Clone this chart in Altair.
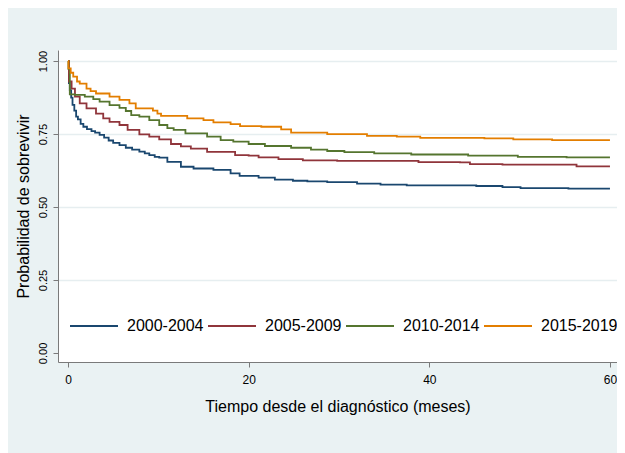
import altair as alt
import pandas as pd

series = ["2000-2004", "2005-2009", "2010-2014", "2015-2019"]
colors = ["#1a476f", "#90353b", "#55752f", "#e37e00"]

t_2000 = [0, 0.1, 0.2, 0.35, 0.5, 0.7, 0.9, 1.1, 1.4, 1.7, 2.1, 2.6, 3.0, 3.5, 4.0, 4.5, 5.0, 5.7, 6.4, 7.1, 7.9, 8.5, 9.0, 9.6, 10.1, 11.0, 12.5, 13.9, 16.1, 18.0, 19.0, 21.1, 22.9, 24.9, 26.5, 28.7, 32.0, 34.6, 37.5, 45.2, 48.1, 50.1, 55.4, 60]
s_2000 = [1.0, 0.925, 0.90, 0.875, 0.85, 0.83, 0.81, 0.80, 0.785, 0.775, 0.767, 0.76, 0.755, 0.747, 0.738, 0.728, 0.72, 0.712, 0.703, 0.697, 0.69, 0.684, 0.678, 0.672, 0.669, 0.655, 0.638, 0.632, 0.627, 0.615, 0.607, 0.601, 0.594, 0.590, 0.588, 0.585, 0.580, 0.577, 0.574, 0.572, 0.568, 0.565, 0.563, 0.563]

t_2005 = [0, 0.1, 0.4, 0.77, 1.3, 2.05, 3.1, 3.9, 4.6, 5.7, 6.6, 7.9, 9.0, 10.1, 11.4, 12.5, 13.6, 15.4, 18.5, 20.0, 21.1, 23.3, 26.0, 29.8, 38.8, 43.4, 44.5, 48.1, 56.3, 60]
s_2005 = [1.0, 0.93, 0.906, 0.878, 0.855, 0.838, 0.82, 0.804, 0.792, 0.781, 0.764, 0.749, 0.741, 0.732, 0.716, 0.708, 0.70, 0.689, 0.678, 0.676, 0.67, 0.664, 0.66, 0.658, 0.654, 0.653, 0.647, 0.645, 0.639, 0.639]

t_2010 = [0, 0.05, 0.2, 0.77, 1.86, 2.8, 3.5, 4.6, 5.7, 6.4, 7.0, 7.9, 9.0, 10.1, 11.0, 11.7, 13.0, 15.4, 16.9, 18.3, 20.0, 21.8, 24.7, 26.9, 28.7, 30.6, 33.9, 38.0, 44.3, 49.8, 55.2, 60]
s_2010 = [1.0, 0.973, 0.886, 0.884, 0.878, 0.87, 0.861, 0.849, 0.84, 0.829, 0.815, 0.81, 0.798, 0.781, 0.77, 0.764, 0.752, 0.741, 0.729, 0.724, 0.716, 0.709, 0.703, 0.697, 0.692, 0.688, 0.684, 0.68, 0.676, 0.672, 0.670, 0.670]

t_2015 = [0, 0.05, 0.3, 0.58, 1.0, 1.3, 2.05, 2.5, 3.1, 4.6, 5.7, 6.8, 7.5, 9.4, 9.9, 10.3, 13.2, 15.0, 16.1, 18.0, 19.05, 21.4, 23.6, 24.7, 28.7, 33.1, 36.4, 39.0, 46.1, 49.3, 53.6, 60]
s_2015 = [1.0, 0.975, 0.96, 0.947, 0.93, 0.923, 0.906, 0.897, 0.889, 0.878, 0.867, 0.855, 0.838, 0.83, 0.82, 0.812, 0.804, 0.798, 0.79, 0.784, 0.777, 0.775, 0.766, 0.755, 0.75, 0.744, 0.741, 0.737, 0.735, 0.732, 0.729, 0.729]

y_ticks = [0, 0.25, 0.5, 0.75, 1.0]
x_ticks = [0, 20, 40, 60]

rows = []
for name, ts, ss in zip(series, [t_2000, t_2005, t_2010, t_2015], [s_2000, s_2005, s_2010, s_2015]):
    for i, (t, s) in enumerate(zip(ts, ss)):
        rows.append({"periodo": name, "t": t, "s": s, "ord": i})
df = pd.DataFrame(rows)

FONT = "Liberation Sans"

chart = alt.Chart(df).mark_line(interpolate="step-after", strokeWidth=1.8).encode(
    x=alt.X("t:Q",
            scale=alt.Scale(domain=[-1.107, 60.78], nice=False, zero=False),
            axis=alt.Axis(values=x_ticks, grid=False, title="Tiempo desde el diagnóstico (meses)",
                          labelFontSize=12, titleFontSize=16, labelPadding=7, titlePadding=13,
                          tickSize=5, format="d")),
    y=alt.Y("s:Q",
            scale=alt.Scale(domain=[-0.031, 1.038], nice=False, zero=False),
            axis=alt.Axis(values=y_ticks, format=".2f", title="Probabilidad de sobrevivir",
                          labelAngle=270, labelAlign="center", labelBaseline="bottom",
                          labelFontSize=11, titleFontSize=16, labelPadding=5, titlePadding=6,
                          tickSize=5, grid=True,
                          gridOpacity={"condition": {"test": "datum.value === 0", "value": 0}, "value": 1})),
    color=alt.Color("periodo:N",
                    scale=alt.Scale(domain=series, range=colors),
                    legend=alt.Legend(orient="none", legendX=11, legendY=251, direction="horizontal",
                                      title=None, symbolType="stroke", symbolSize=2304,
                                      symbolStrokeWidth=2, labelFontSize=16, labelOffset=8,
                                      columnPadding=0, padding=0, labelColor="#000000",
                                      labelFont=FONT)),
    order="ord:Q",
).properties(
    width=559,
    height=312,
    autosize=alt.AutoSizeParams(type="none"),
    padding={"left": 50, "top": 42, "right": 0, "bottom": 91},
).configure(
    background="#eaf2f3",
).configure_view(
    fill="white", stroke=None,
).configure_axis(
    labelFont=FONT, titleFont=FONT, labelColor="#000000", titleColor="#000000",
    titleFontWeight="normal", domainColor="#7a7a7a", tickColor="#7a7a7a",
    gridColor="#e6eef0", gridWidth=1.5,
)

chart.save("out.html", embed_options={"renderer": "svg", "actions": False})
